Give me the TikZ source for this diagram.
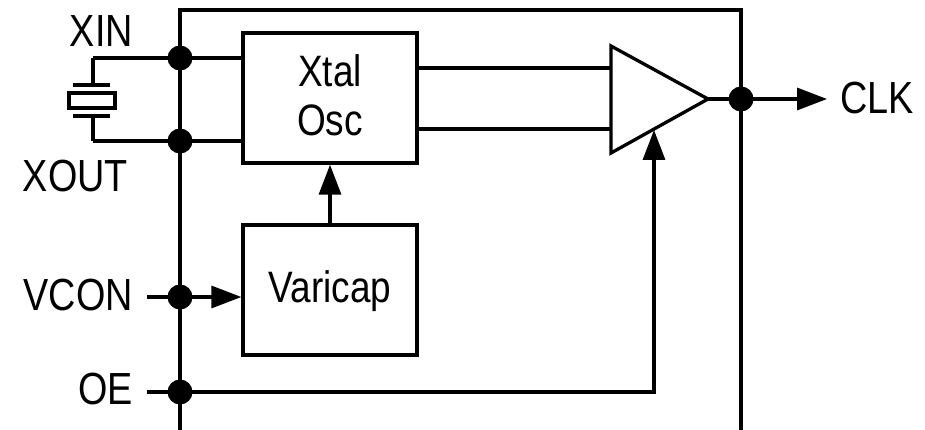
\documentclass[tikz,border=0pt]{standalone}
\usepackage{fontspec}
\setmainfont{Liberation Sans}[FakeStretch=0.84]
\usetikzlibrary{arrows.meta}
\begin{document}
\begin{tikzpicture}[x=1pt,y=-1pt,
  wire/.style={line width=3.3pt},
  arr/.style={wire,-{Triangle[length=30pt,width=22pt]}},
  blk/.style={draw,line width=3.3pt,minimum width=174pt,minimum height=130pt,inner sep=0pt},
  lbl/.style={inner sep=0pt,font=\fontsize{45}{48}\selectfont},
  ilbl/.style={inner sep=0pt,font=\fontsize{44}{48}\selectfont},
  dot/.style={circle,fill=black,inner sep=0pt,minimum size=25pt}]
\useasboundingbox (0,0) rectangle (925,430);
% chip outline
\draw[wire] (180,432) -- (180,10) -- (741,10) -- (741,432);
% blocks
\node[blk] (xo) at (330,98) {};
\node[ilbl,anchor=base] at (330,87) {Xtal};
\node[ilbl,anchor=base] at (330,136) {Osc};
\node[blk] (vc) at (330,290) {};
\node[ilbl,anchor=base] at (330,302) {Varicap};
% buffer triangle
\coordinate (ta) at (611,46);
\coordinate (tb) at (611,153);
\coordinate (tc) at (708,99);
\draw[wire,line join=miter] (ta) -- (tb) -- (tc) -- cycle;
% crystal
\coordinate (cxa) at (93,58);
\coordinate (cxb) at (93,141);
\draw[wire] (cxa) -- (93,85);
\draw[wire] (73,85) -- (110,85);
\draw[wire] (69,93) rectangle (115,108);
\draw[wire] (73,116) -- (110,116);
\draw[wire] (93,116) -- (cxb);
% pins
\node[dot] (dxin) at (180,58) {};
\node[dot] (dxout) at (180,141) {};
\node[dot] (dvcon) at (180,297) {};
\node[dot] (doe) at (180,392) {};
\node[dot] (dclk) at (741,99) {};
\draw[wire] (cxa) -- (dxin.center) -- (xo.west |- dxin);
\draw[wire] (cxb) -- (dxout.center) -- (xo.west |- dxout);
\coordinate (vcon) at (147,297);
\coordinate (oe) at (147,392);
\draw[arr] (vcon) -- (vc.west |- vcon);
\coordinate (en) at (654,392);
\coordinate (ent) at (654,130);
\draw[arr] (oe) -- (en) -- (ent);
\draw[arr] (vc.north) -- (xo.south);
\draw[wire] (xo.east |- 0,68) -- (611,68);
\draw[wire] (xo.east |- 0,129) -- (611,129);
\coordinate (clk) at (827,99);
\draw[arr] (tc) -- (clk);
% labels
\node[lbl,anchor=base east] at (133,47) {XIN};
\node[lbl,anchor=base east] at (128,192) {XOUT};
\node[lbl,anchor=base east] at (133,310) {VCON};
\node[lbl,anchor=base east] at (133,404) {OE};
\node[lbl,anchor=base west] at (840,114) {CLK};
\end{tikzpicture}
\end{document}
